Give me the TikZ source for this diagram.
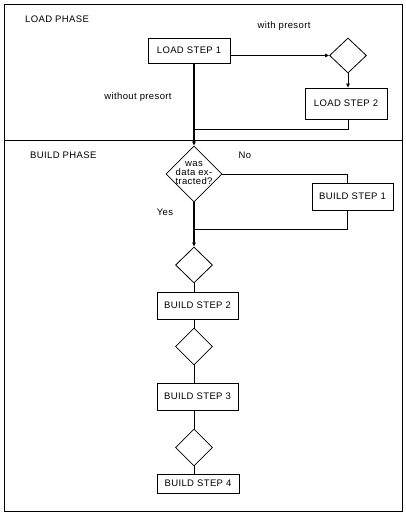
\documentclass[tikz,border=0pt]{standalone}
\usepackage{fontspec}
\setmainfont[LetterSpace=4]{Liberation Sans}
\usetikzlibrary{shapes.geometric,arrows.meta}
\begin{document}
\begin{tikzpicture}[x=1pt,y=-1pt,
  box/.style={draw, line width=0.8pt, inner sep=0pt, font=\fontsize{9.5}{11}\selectfont},
  dia/.style={draw, diamond, inner sep=0pt, line width=0.8pt},
  ln/.style={line width=0.9pt},
  arr/.style={ln, -{Triangle[length=4pt,width=3.5pt]}},
  lbl/.style={font=\fontsize{9.5}{11}\selectfont, inner sep=0pt}]
\useasboundingbox (0,0) rectangle (406,514);
\node[draw, line width=0.9pt, minimum width=398pt, minimum height=507pt, inner sep=0pt, anchor=north west] (frame) at (3.5,3.5) {};
\coordinate (dl) at (3.5,140);
\coordinate (dr) at (401.5,140);
\draw[ln] (dl) -- (dr);

\node[lbl, anchor=west] (lp) at (25,19) {LOAD PHASE};
\node[lbl, anchor=west] (bp) at (30,155) {BUILD PHASE};
\node[lbl] (wp) at (284,26) {with presort};
\node[lbl] (wop) at (138,97) {without presort};
\node[lbl] (no) at (245,155) {No};
\node[lbl] (yes) at (165,212) {Yes};

\node[box, minimum width=82pt, minimum height=25pt] (ls1) at (189,50.5) {LOAD STEP 1};
\node[dia, minimum width=37pt, minimum height=35pt] (dA) at (348,55.5) {};
\node[box, minimum width=82pt, minimum height=31pt] (ls2) at (346,103.5) {LOAD STEP 2};
\node[dia, minimum width=56pt, minimum height=56pt] (dB) at (194,174) {};
\node[inner sep=0pt, align=center, font=\fontsize{9.5}{9}\selectfont] (dBt) at (194,172.5) {was\\data ex-\\tracted?};
\node[box, minimum width=81pt, minimum height=27pt] (bs1) at (352.5,196.5) {BUILD STEP 1};
\node[dia, minimum width=37pt, minimum height=36pt] (dC) at (194,265) {};
\node[box, minimum width=81pt, minimum height=27pt] (bs2) at (197.5,305.5) {BUILD STEP 2};
\node[dia, minimum width=37pt, minimum height=37pt] (dD) at (194,346.5) {};
\node[box, minimum width=81pt, minimum height=27pt] (bs3) at (197.5,396.5) {BUILD STEP 3};
\node[dia, minimum width=37pt, minimum height=37pt] (dE) at (194,447.5) {};
\node[box, minimum width=82pt, minimum height=19pt] (bs4) at (198,483.5) {BUILD STEP 4};

\draw[arr] (ls1.east |- dA.west) -- (dA.west);
\draw[arr] (dA.south) -- (dA.south |- ls2.north);
\coordinate (j1) at (194,129);
\draw[ln] (ls2.south -| dA.south) -- (dA.south |- j1) -- (j1);
\draw[arr, line width=1.3pt] (ls1.south -| dB.north) -- (dB.north);

\coordinate (nb) at (347,174);
\draw[ln] (dB.east) -- (nb) -- (nb |- bs1.north);
\coordinate (yb) at (347,229);
\draw[ln] (yb |- bs1.south) -- (yb) -- (yb -| dB.south);
\draw[arr, line width=1.1pt] (dB.south) -- (dC.north);
\draw[ln] (dC.south) -- (dC.south |- bs2.north);
\draw[ln] (dC.south |- bs2.south) -- (dD.north);
\draw[ln] (dD.south) -- (dD.south |- bs3.north);
\draw[ln] (dD.south |- bs3.south) -- (dE.north);
\draw[ln] (dE.south) -- (dE.south |- bs4.north);
\end{tikzpicture}
\end{document}
